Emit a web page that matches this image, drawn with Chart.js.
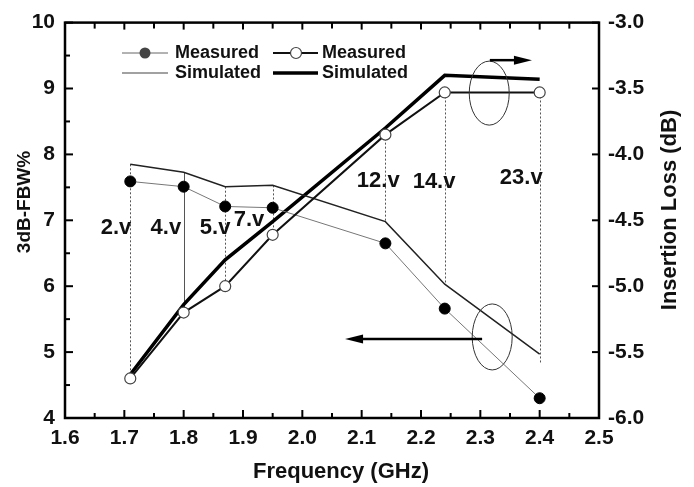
<!DOCTYPE html>
<html>
<head>
    <title>3dB-FBW and Insertion Loss vs Frequency</title>
    <script src="https://cdn.jsdelivr.net/npm/chart.js"></script>
    <style>
        html, body { margin: 0; padding: 0; background: #fff; }
        #wrap { width: 694px; height: 487px; }
    </style>
</head>
<body>
    <div id="wrap"><canvas id="myChart" width="694" height="487"></canvas></div>

    <script>
        // frequency points (GHz), same for all series
        const freq = [1.71, 1.80, 1.87, 1.95, 2.14, 2.24, 2.40];

        // left axis: 3dB-FBW %
        const fbwMeasured = [7.59, 7.51, 7.21, 7.19, 6.65, 5.66, 4.30];
        const fbwSimulated = [7.85, 7.73, 7.51, 7.53, 6.98, 6.03, 4.97];

        // right axis: insertion loss (dB)
        const ilMeasured = [-5.70, -5.20, -5.00, -4.61, -3.85, -3.53, -3.53];
        const ilSimulated = [-5.67, -5.14, -4.80, -4.51, -3.80, -3.40, -3.43];

        // vertical guide lines (left axis units) and bias voltage labels
        const guideTop = [7.85, 7.73, 7.51, 7.53, 8.30, 8.94, 8.94];
        const guideBottom = [4.60, 5.60, 6.00, 6.79, 6.98, 6.03, 4.83];
        const voltLabels = ['2.v', '4.v', '5.v', '7.v', '12.v', '14.v', '23.v'];
        const voltLabelX = [1.686, 1.770, 1.853, 1.910, 2.128, 2.222, 2.369];
        const voltLabelY = [6.89, 6.89, 6.89, 7.01, 7.59, 7.58, 7.64];

        const FONT = '"Liberation Sans", Arial, sans-serif';

        function pts(ys) {
            return freq.map((f, i) => ({ x: f, y: ys[i] }));
        }

        function line(ctx, x1, y1, x2, y2) {
            ctx.beginPath();
            ctx.moveTo(x1, y1);
            ctx.lineTo(x2, y2);
            ctx.stroke();
        }

        function arrow(ctx, x1, y, x2) {
            const dir = x2 > x1 ? 1 : -1;
            ctx.lineWidth = 2.5;
            line(ctx, x1, y, x2 - dir * 14, y);
            ctx.beginPath();
            ctx.moveTo(x2, y);
            ctx.lineTo(x2 - dir * 18, y - 4.5);
            ctx.lineTo(x2 - dir * 18, y + 4.5);
            ctx.closePath();
            ctx.fill();
        }

        const decor = {
            id: 'decor',
            beforeDatasetsDraw(chart) {
                const ctx = chart.ctx;
                const x = chart.scales.x, y = chart.scales.y;
                ctx.save();
                ctx.strokeStyle = '#555';
                ctx.lineWidth = 1;
                freq.forEach((f, i) => {
                    ctx.setLineDash(i === 1 ? [] : [2, 2]);
                    const px = Math.round(x.getPixelForValue(f)) + 0.5;
                    line(ctx, px, y.getPixelForValue(guideTop[i]), px, y.getPixelForValue(guideBottom[i]));
                });
                ctx.restore();
            },
            afterDatasetsDraw(chart) {
                const ctx = chart.ctx;
                const a = chart.chartArea;
                const x = chart.scales.x, y = chart.scales.y, y2 = chart.scales.y2;
                ctx.save();
                ctx.strokeStyle = '#000';
                ctx.fillStyle = '#000';

                // inward ticks
                ctx.lineWidth = 2;
                const xt = x.ticks.map(t => t.value);
                xt.forEach((v, i) => {
                    const px = x.getPixelForValue(v);
                    line(ctx, px, a.bottom, px, a.bottom - 8);
                    line(ctx, px, a.top, px, a.top + 7);
                    if (i < xt.length - 1) {
                        const pm = x.getPixelForValue((v + xt[i + 1]) / 2);
                        line(ctx, pm, a.bottom, pm, a.bottom - 5);
                        line(ctx, pm, a.top, pm, a.top + 6);
                    }
                });
                const yt = y.ticks.map(t => t.value);
                yt.forEach((v, i) => {
                    const py = y.getPixelForValue(v);
                    line(ctx, a.left, py, a.left + 8, py);
                    if (i < yt.length - 1) {
                        const pm = y.getPixelForValue((v + yt[i + 1]) / 2);
                        line(ctx, a.left, pm, a.left + 5, pm);
                    }
                });
                y2.ticks.forEach(t => {
                    const py = y2.getPixelForValue(t.value);
                    line(ctx, a.right, py, a.right - 7, py);
                });

                // frame
                ctx.lineWidth = 2.5;
                ctx.strokeRect(a.left, a.top, a.right - a.left, a.bottom - a.top);

                // ellipses and arrows
                ctx.lineWidth = 1;
                ctx.strokeStyle = '#333';
                ctx.beginPath();
                ctx.ellipse(x.getPixelForValue(2.315), y.getPixelForValue(8.93), 20, 32, 0, 0, Math.PI * 2);
                ctx.stroke();
                ctx.beginPath();
                ctx.ellipse(x.getPixelForValue(2.32), y.getPixelForValue(5.23), 20, 33, 0, 0, Math.PI * 2);
                ctx.stroke();
                ctx.strokeStyle = '#000';
                arrow(ctx, x.getPixelForValue(2.316), y.getPixelForValue(9.43), x.getPixelForValue(2.387));
                arrow(ctx, x.getPixelForValue(2.303), y.getPixelForValue(5.20), x.getPixelForValue(2.072));

                // voltage labels
                ctx.font = 'bold 22px ' + FONT;
                ctx.fillStyle = '#111';
                ctx.textAlign = 'center';
                ctx.textBaseline = 'middle';
                voltLabels.forEach((t, i) => {
                    ctx.fillText(t, x.getPixelForValue(voltLabelX[i]), y.getPixelForValue(voltLabelY[i]));
                });

                // legend
                const rows = [53, 73];
                const cols = [122, 273];
                const lw = [46, 45];
                ctx.font = 'bold 18px ' + FONT;
                ctx.textAlign = 'left';
                // col 1
                ctx.strokeStyle = '#666'; ctx.lineWidth = 1;
                line(ctx, cols[0], rows[0], cols[0] + lw[0], rows[0]);
                ctx.fillStyle = '#444';
                ctx.beginPath(); ctx.arc(cols[0] + 23, rows[0], 5.5, 0, Math.PI * 2); ctx.fill();
                ctx.strokeStyle = '#444'; ctx.lineWidth = 1.2;
                line(ctx, cols[0], rows[1], cols[0] + lw[0], rows[1]);
                // col 2
                ctx.strokeStyle = '#111'; ctx.lineWidth = 2;
                line(ctx, cols[1], rows[0], cols[1] + lw[1], rows[0]);
                ctx.fillStyle = '#fff'; ctx.strokeStyle = '#444'; ctx.lineWidth = 1.2;
                ctx.beginPath(); ctx.arc(cols[1] + 23, rows[0], 5.5, 0, Math.PI * 2); ctx.fill(); ctx.stroke();
                ctx.strokeStyle = '#000'; ctx.lineWidth = 3.5;
                line(ctx, cols[1], rows[1], cols[1] + lw[1], rows[1]);
                ctx.fillStyle = '#111';
                ctx.fillText('Measured', 175, rows[0]);
                ctx.fillText('Simulated', 175, rows[1]);
                ctx.fillText('Measured', 322, rows[0]);
                ctx.fillText('Simulated', 322, rows[1]);

                // axis titles
                ctx.textAlign = 'center';
                ctx.font = 'bold 22px ' + FONT;
                ctx.fillText('Frequency (GHz)', 341, 472);
                ctx.save();
                ctx.translate(25, 202);
                ctx.rotate(-Math.PI / 2);
                ctx.font = 'bold 19px ' + FONT;
                ctx.fillText('3dB-FBW%', 0, 0);
                ctx.restore();
                ctx.save();
                ctx.translate(670, 210);
                ctx.rotate(-Math.PI / 2);
                ctx.font = 'bold 22px ' + FONT;
                ctx.fillText('Insertion Loss (dB)', 0, 0);
                ctx.restore();

                ctx.restore();
            }
        };

        const tickFont = { family: FONT, size: 21, weight: 'bold' };
        const ctx = document.getElementById('myChart').getContext('2d');

        const myChartInstance = new Chart(ctx, {
            type: 'line',
            data: {
                datasets: [
                    {
                        label: 'Measured FBW',
                        data: pts(fbwMeasured),
                        yAxisID: 'y',
                        borderColor: '#777',
                        borderWidth: 1,
                        pointRadius: 5.5,
                        pointBackgroundColor: '#000',
                        pointBorderColor: '#000',
                        order: 2
                    },
                    {
                        label: 'Simulated FBW',
                        data: pts(fbwSimulated),
                        yAxisID: 'y',
                        borderColor: '#222',
                        borderWidth: 1.5,
                        pointRadius: 0,
                        order: 3
                    },
                    {
                        label: 'Measured IL',
                        data: pts(ilMeasured),
                        yAxisID: 'y2',
                        borderColor: '#111',
                        borderWidth: 2,
                        pointRadius: 5.5,
                        pointBackgroundColor: '#fff',
                        pointBorderColor: '#444',
                        pointBorderWidth: 1.2,
                        order: 1
                    },
                    {
                        label: 'Simulated IL',
                        data: pts(ilSimulated),
                        yAxisID: 'y2',
                        borderColor: '#000',
                        borderWidth: 3.5,
                        pointRadius: 0,
                        order: 4
                    }
                ]
            },
            options: {
                responsive: false,
                animation: false,
                devicePixelRatio: 1,
                layout: { padding: { top: 19, left: 0, right: 0, bottom: 0 } },
                plugins: {
                    legend: { display: false },
                    tooltip: { enabled: false }
                },
                scales: {
                    x: {
                        type: 'linear',
                        position: 'bottom',
                        min: 1.6,
                        max: 2.5,
                        grid: { display: false, drawTicks: false },
                        border: { display: false },
                        ticks: {
                            stepSize: 0.1,
                            font: tickFont,
                            color: '#111',
                            padding: 8,
                            maxRotation: 0,
                            callback: v => Number(v).toFixed(1)
                        },
                        afterFit: s => { s.height = 69; }
                    },
                    y: {
                        position: 'left',
                        min: 4,
                        max: 10,
                        grid: { display: false, drawTicks: false },
                        border: { display: false },
                        ticks: { stepSize: 1, font: tickFont, color: '#111', padding: 10 },
                        afterFit: s => { s.width = 65; }
                    },
                    y2: {
                        position: 'right',
                        min: -6,
                        max: -3,
                        grid: { display: false, drawTicks: false },
                        border: { display: false },
                        ticks: {
                            stepSize: 0.5,
                            font: tickFont,
                            color: '#111',
                            padding: 9,
                            callback: v => Number(v).toFixed(1)
                        },
                        afterFit: s => { s.width = 95; }
                    }
                }
            },
            plugins: [decor]
        });
    </script>
</body>
</html>
